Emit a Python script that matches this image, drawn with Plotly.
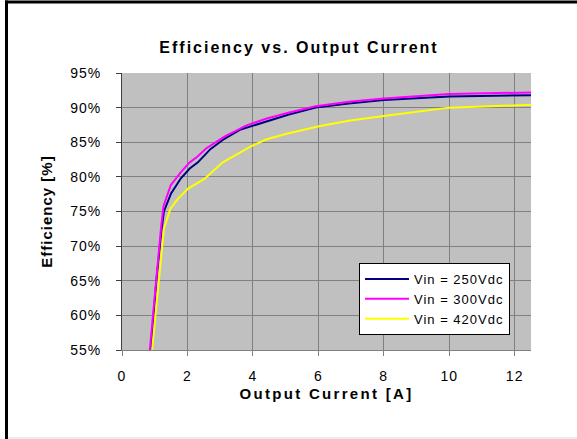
import plotly.graph_objects as go

# Data
x_250 = [0.88, 1.05, 1.2, 1.28, 1.5, 1.8, 2.07, 2.32, 2.7, 3.13, 3.6, 4.4, 5.1, 5.92, 6.93, 8.0, 10.0, 12.5]
y_250 = [55.0, 65.0, 72.0, 75.0, 77.6, 79.8, 81.2, 82.1, 84.0, 85.5, 86.8, 88.0, 89.0, 90.0, 90.6, 91.1, 91.6, 91.8]

x_300 = [0.85, 1.05, 1.2, 1.27, 1.49, 1.8, 2.07, 2.3, 2.57, 3.13, 3.79, 4.4, 5.11, 5.92, 6.93, 8.0, 10.0, 12.5]
y_300 = [55.0, 66.0, 73.0, 75.8, 78.8, 80.7, 82.1, 82.9, 84.1, 85.8, 87.4, 88.4, 89.3, 90.2, 90.85, 91.3, 91.95, 92.2]

x_420 = [0.92, 1.28, 1.48, 1.7, 2.02, 2.52, 3.08, 3.94, 4.4, 5.0, 6.02, 6.93, 8.0, 9.06, 10.0, 12.5]
y_420 = [55.0, 72.5, 75.4, 76.8, 78.3, 79.7, 82.1, 84.4, 85.4, 86.2, 87.3, 88.1, 88.8, 89.4, 90.0, 90.4]

series_names = ["Vin = 250Vdc", "Vin = 300Vdc", "Vin = 420Vdc"]
series_colors = ["#000080", "#FF00FF", "#FFFF00"]

x_ticks = [0, 2, 4, 6, 8, 10, 12]
y_ticks = [55, 60, 65, 70, 75, 80, 85, 90, 95]
y_tick_labels = [f"{v}%" for v in y_ticks]

chart_title = "Efficiency vs. Output Current"
x_title = "Output Current [A]"
y_title = "Efficiency [%]"


def spaced(text, ls, bold=False):
    inner = f"<b>{text}</b>" if bold else text
    return f'<span style="letter-spacing:{ls}px">{inner}</span>'


fig = go.Figure()
for xs, ys, name, col in zip([x_250, x_300, x_420], [y_250, y_300, y_420], series_names, series_colors):
    fig.add_trace(go.Scatter(x=xs, y=ys, mode="lines", name=spaced(name, 1),
                             line=dict(color=col, width=2)))

font_family = "Liberation Sans, Arial, sans-serif"

W, H = 577, 439
L, R, T, B = 122, 46, 73, 89
pw, ph = W - L - R, H - T - B


def px(xpix):
    return (xpix - L) / pw


def py(ypix):
    return (H - B - ypix) / ph


fig.update_layout(
    width=W, height=H,
    margin=dict(l=L, r=R, t=T, b=B),
    paper_bgcolor="white",
    plot_bgcolor="#C0C0C0",
    font=dict(family=font_family, color="black", size=14),
    title=dict(text=spaced(chart_title, 2, bold=True), x=299 / W, xref="container",
               xanchor="center", y=1 - 47.5 / H, yanchor="middle",
               font=dict(size=16, family=font_family)),
    showlegend=True,
    legend=dict(x=px(359), y=py(263), xanchor="left", yanchor="top",
                bgcolor="white", bordercolor="black", borderwidth=1,
                itemwidth=44,
                font=dict(size=13, family=font_family), tracegroupgap=0),
    xaxis=dict(range=[0, 12.5], tickvals=x_ticks, ticktext=[spaced(str(v), 1) for v in x_ticks],
               showgrid=True, gridcolor="#808080", gridwidth=1,
               showline=True, linecolor="#808080", linewidth=1,
               ticks="outside", ticklen=5, tickcolor="#808080",
               ticklabelstandoff=8,
               zeroline=False,
               title=dict(text=spaced(x_title, 2.3, bold=True), standoff=5,
                          font=dict(size=15, family=font_family))),
    yaxis=dict(range=[55, 95], tickvals=y_ticks, ticktext=[spaced(t, 1) for t in y_tick_labels],
               showgrid=True, gridcolor="#808080", gridwidth=1,
               showline=True, linecolor="#404040", linewidth=1,
               ticks="outside", ticklen=5, tickcolor="#404040",
               ticklabelstandoff=12,
               zeroline=False,
               title=dict(text=spaced(y_title, 1, bold=True), standoff=13,
                          font=dict(size=15, family=font_family))),
    shapes=[
        dict(type="line", xref="paper", yref="paper", x0=px(5), x1=px(577), y0=py(2), y1=py(2),
             line=dict(color="black", width=3)),
        dict(type="line", xref="paper", yref="paper", x0=px(6.5), x1=px(6.5), y0=py(0.5), y1=py(439),
             line=dict(color="black", width=3)),
        dict(type="line", xref="paper", yref="paper", x0=px(8), x1=px(577), y0=py(438), y1=py(438),
             line=dict(color="#D8D8D8", width=1)),
    ],
)

fig.write_html("out.html", config={"displayModeBar": False},
               post_script="document.body.style.margin='0px';document.body.style.padding='0px';")
